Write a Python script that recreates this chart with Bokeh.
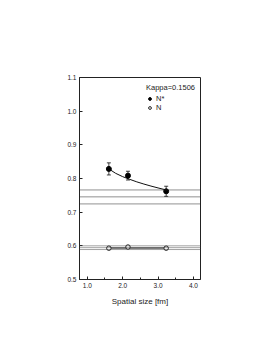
from bokeh.plotting import figure
from bokeh.models import (ColumnDataSource, Whisker, TeeHead, Span, Legend, LegendItem,
                          FixedTicker, PrintfTickFormatter, Range1d)
from bokeh.embed import file_html
from bokeh.resources import INLINE

# --- data ---
nstar_x = [1.61, 2.15, 3.23]
nstar_y = [0.8285, 0.8085, 0.762]
nstar_err = [0.018, 0.013, 0.015]

n_x = [1.61, 2.15, 3.23]
n_y = [0.593, 0.5965, 0.593]
n_err = [0.002, 0.003, 0.002]

nstar_fit_x = [1.61, 1.8, 2.0, 2.2, 2.4, 2.6, 2.8, 3.0, 3.23]
nstar_fit_y = [0.8285, 0.8155, 0.8055, 0.7975, 0.7900, 0.7835, 0.7775, 0.7720, 0.7660]

n_fit_x = [1.61, 3.23]
n_fit_y = [0.5935, 0.5935]

nstar_band = [0.766, 0.7455, 0.7245]
n_band = [0.600, 0.5945, 0.589]

x_ticks = [1.0, 2.0, 3.0, 4.0]
y_ticks = [0.5, 0.6, 0.7, 0.8, 0.9, 1.0, 1.1]

FONT = "Liberation Sans"

p = figure(width=269, height=350, output_backend="svg", toolbar_location=None,
           x_range=Range1d(0.78, 4.2), y_range=Range1d(0.5, 1.1),
           min_border_left=79, min_border_right=69, min_border_top=77, min_border_bottom=71)
p.grid.visible = False
p.outline_line_color = "#222222"
p.outline_line_width = 1
p.background_fill_color = "white"
p.border_fill_color = "white"

for ax in (p.xaxis[0], p.yaxis[0]):
    ax.axis_line_color = "#222222"
    ax.major_tick_in = 3
    ax.major_tick_out = 0
    ax.minor_tick_in = 2
    ax.minor_tick_out = 0
    ax.major_tick_line_color = "#222222"
    ax.minor_tick_line_color = "#222222"
    ax.major_label_text_font = FONT
    ax.major_label_text_font_size = "6.5px"
    ax.major_label_text_color = "#222222"
    ax.major_label_standoff = 3
    ax.formatter = PrintfTickFormatter(format="%.1f")

p.xaxis[0].ticker = FixedTicker(ticks=x_ticks, minor_ticks=[1.5, 2.5, 3.5])
p.yaxis[0].ticker = FixedTicker(ticks=y_ticks, minor_ticks=[])
p.xaxis[0].axis_label = "Spatial size [fm]"
p.xaxis[0].axis_label_text_font = FONT
p.xaxis[0].axis_label_text_font_size = "8px"
p.xaxis[0].axis_label_text_font_style = "normal"
p.xaxis[0].axis_label_text_color = "#222222"
p.xaxis[0].axis_label_standoff = 6

for v in nstar_band:
    p.add_layout(Span(location=v, dimension="width", line_color="#222222",
                      line_width=1, line_dash="1 1"))
for v in n_band:
    p.add_layout(Span(location=v, dimension="width", line_color="#444444",
                      line_width=1, line_dash="1 1"))

p.line(nstar_fit_x, nstar_fit_y, line_color="#111111", line_width=1)
p.line(n_fit_x, n_fit_y, line_color="#111111", line_width=1)

src_s = ColumnDataSource(dict(x=nstar_x, y=nstar_y,
                              lo=[a - b for a, b in zip(nstar_y, nstar_err)],
                              hi=[a + b for a, b in zip(nstar_y, nstar_err)]))
src_n = ColumnDataSource(dict(x=n_x, y=n_y,
                              lo=[a - b for a, b in zip(n_y, n_err)],
                              hi=[a + b for a, b in zip(n_y, n_err)]))
for src in (src_s, src_n):
    p.add_layout(Whisker(source=src, base="x", lower="lo", upper="hi",
                         line_color="#111111", line_width=0.8,
                         upper_head=TeeHead(size=4, line_color="#111111", line_width=0.8),
                         lower_head=TeeHead(size=4, line_color="#111111", line_width=0.8)))

r_s = p.scatter("x", "y", source=src_s, size=5, marker="circle",
                fill_color="black", line_color="black")
r_n = p.scatter("x", "y", source=src_n, size=4.5, marker="circle",
                fill_color="white", line_color="#111111", line_width=0.9)

legend = Legend(items=[LegendItem(label="N*", renderers=[r_s]),
                       LegendItem(label="N", renderers=[r_n])],
                title="Kappa=0.1506", location=(67, 167),
                title_text_font=FONT, title_text_font_size="7.5px",
                title_text_font_style="normal", title_text_color="#222222",
                label_text_font=FONT, label_text_font_size="7.5px",
                label_text_color="#222222",
                glyph_width=7, glyph_height=7, label_height=7, label_width=10,
                spacing=0, padding=0, margin=0, label_standoff=3, title_standoff=2,
                border_line_color=None, background_fill_alpha=0)
p.add_layout(legend)

open("out.html", "w").write(file_html(p, INLINE))
